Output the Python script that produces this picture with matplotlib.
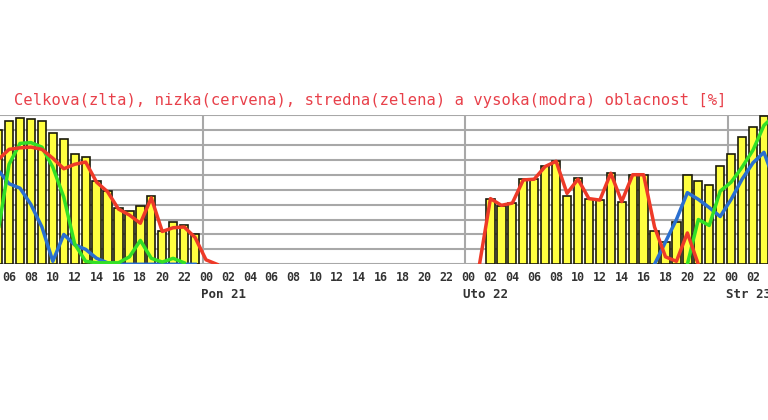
import numpy as np
import matplotlib
matplotlib.use('Agg')
import matplotlib.pyplot as plt

nan = np.nan

# hodiny relativne k polnoci "Pon 21" (-19 .. 52)
hodiny = np.arange(-19, 53)

# celkova oblacnost (stlpce, zlta)
celkova = ([90, 96, 98, 97, 96, 88, 84, 74, 72, 56, 49, 38, 36, 39, 46, 22, 28, 26, 20]
           + [nan] * 26
           + [44, 39, 41, 57, 57, 66, 69, 46, 58, 44, 43, 61, 42, 60, 60, 22, 15, 28,
              60, 56, 53, 66, 74, 85, 92, 99, 100])

# nizka (cervena)
nizka = ([70, 77, 78, 78.5, 77, 71, 64, 67, 68.5, 55, 48.6, 37, 33, 27.5, 44.5, 22,
          24.5, 25, 18, 3, 0]
         + [nan] * 23
         + [0, 44, 39.5, 41, 56.5, 57, 65.5, 69, 47.5, 57, 44, 43, 61, 42, 60, 60, 25,
            5, 2, 21, 0]
         + [nan] * 7)

# stredna (zelena)
stredna = ([22, 67, 81, 81.5, 78.5, 65, 45, 13.5, 2, 1, 1, 1, 5, 16, 4, 1.5, 4, 1]
           + [nan] * 45
           + [0, 30, 26, 49, 55, 65, 76.5, 93, 100])

# vysoka (modra)
vysoka = ([63, 54, 51, 40, 25, 2, 20, 13, 10, 4, 1, 0, 0, 0, 0, 0, 0, 0, 0]
          + [nan] * 41
          + [0, 15, 30, 48, 43.5, 38, 32, 43.5, 57, 68, 75, 55])

tick_hodiny = np.arange(-18, 51, 2)
tick_popisy = [f"{h % 24:02d}" for h in tick_hodiny]
dni = ["Pon 21", "Uto 22", "Str 23"]
dni_start = [0, 24, 48]

titulok = "Celkova(zlta), nizka(cervena), stredna(zelena) a vysoka(modra) oblacnost [%]"

W, H = 768, 420
fig = plt.figure(figsize=(W / 100, H / 100), dpi=100)
ax = fig.add_axes([0, (H - 264.3) / H, 1, (264.3 - 115) / H])

mono = 'DejaVu Sans Mono'

ax.bar(hodiny, celkova, width=0.76, color='#ffff40', edgecolor='#1a1a0a',
       linewidth=1.2, zorder=2)
ax.plot(hodiny, vysoka, color='#2a6fd0', lw=2.5, zorder=3)
ax.plot(hodiny, stredna, color='#33e026', lw=2.5, zorder=4)
ax.plot(hodiny, nizka, color='#ee3a28', lw=2.5, zorder=5)

for d in dni_start:
    ax.axvline(d - 0.3, color='#a8a8a8', lw=1.5, zorder=1)

ax.set_xlim(-18.83, 51.37)
ax.set_ylim(0, 100)
ax.set_yticks(np.arange(0, 101, 10))
ax.yaxis.grid(True, color='#a8a8a8', lw=1.5, zorder=0)
ax.set_axisbelow(True)
ax.tick_params(axis='y', left=False, labelleft=False)
ax.set_xticks(tick_hodiny)
ax.set_xticklabels(tick_popisy, fontfamily=mono, fontsize=8.4, fontweight='bold',
                   color='#333333')
ax.tick_params(axis='x', length=0, pad=5)
for s in ax.spines.values():
    s.set_visible(False)

for nazov, d in zip(dni, dni_start):
    ax.text(d - 0.5, -0.205, nazov, transform=ax.get_xaxis_transform(),
            ha='left', va='center', fontfamily=mono, fontsize=9, fontweight='bold',
            color='#333333')

fig.text(370 / W, 1 - 100 / H, titulok, ha='center', va='center',
         fontfamily=mono, fontsize=11.2, color='#e8404a')

fig.savefig('out.png', dpi=100, facecolor='white')
